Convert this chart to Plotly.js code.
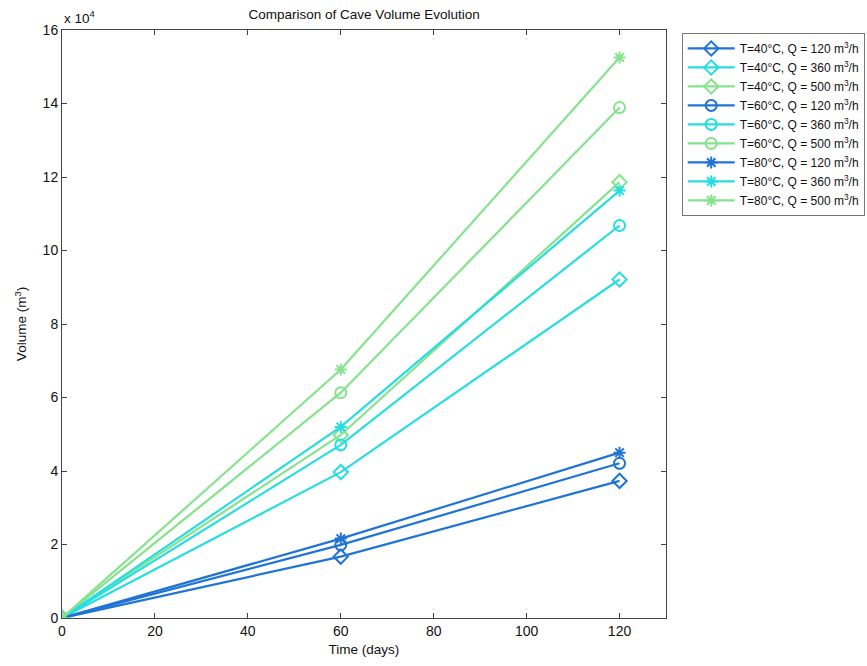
<!DOCTYPE html>
<html>
<head>
<meta charset="utf-8">
<script src="https://cdn.plot.ly/plotly-3.0.1.min.js"></script>
<style>html,body{margin:0;padding:0;background:#fff;}#chart{width:867px;height:666px;}</style>
</head>
<body>
<div id="chart"></div>
<script>
// Data (time in days, volume in m^3)
const days = [0, 60, 120];
const v40_120 = [0, 16700, 37300];
const v40_360 = [0, 39700, 92100];
const v40_500 = [0, 49800, 118600];
const v60_120 = [0, 19900, 42100];
const v60_360 = [0, 47100, 106800];
const v60_500 = [0, 61300, 138900];
const v80_120 = [0, 21600, 45000];
const v80_360 = [0, 52000, 116300];
const v80_500 = [0, 67600, 152500];
const seriesNames = [
  'T=40°C, Q = 120 m<sup>3</sup>/h', 'T=40°C, Q = 360 m<sup>3</sup>/h', 'T=40°C, Q = 500 m<sup>3</sup>/h',
  'T=60°C, Q = 120 m<sup>3</sup>/h', 'T=60°C, Q = 360 m<sup>3</sup>/h', 'T=60°C, Q = 500 m<sup>3</sup>/h',
  'T=80°C, Q = 120 m<sup>3</sup>/h', 'T=80°C, Q = 360 m<sup>3</sup>/h', 'T=80°C, Q = 500 m<sup>3</sup>/h'
];
const yTickVals = [0, 20000, 40000, 60000, 80000, 100000, 120000, 140000, 160000];
const yTickText = ['0', '2', '4', '6', '8', '10', '12', '14', '16'];
const xTickVals = [0, 20, 40, 60, 80, 100, 120];

const seriesValues = [v40_120, v40_360, v40_500, v60_120, v60_360, v60_500, v80_120, v80_360, v80_500];
const colors = ['#1f74d4', '#26dde2', '#86e38d'];
const symbols = ['diamond-open', 'circle-open', 'asterisk-open'];

const traces = seriesValues.map((vals, i) => {
  const c = colors[i % 3];
  const s = symbols[Math.floor(i / 3)];
  return {
    x: days, y: vals, name: seriesNames[i], type: 'scatter', mode: 'lines+markers',
    line: {color: c, width: 2.2},
    marker: {symbol: s, size: s === 'asterisk-open' ? 10 : 11, color: c, line: {color: c, width: 2}}
  };
});

const axisCommon = {
  showline: true, linecolor: '#444', linewidth: 1, mirror: 'ticks',
  ticks: 'inside', ticklen: 5, tickcolor: '#444', showgrid: false, zeroline: false,
  tickfont: {family: 'Liberation Sans, Arial, sans-serif', size: 14, color: '#111'}
};

const layout = {
  width: 867, height: 666,
  margin: {l: 62, r: 201, t: 30, b: 48, autoexpand: false},
  paper_bgcolor: '#fff', plot_bgcolor: '#fff',
  font: {family: 'Liberation Sans, Arial, sans-serif', color: '#111'},
  title: {text: 'Comparison of Cave Volume Evolution', x: 0.42, xanchor: 'center', y: 0.985, yanchor: 'top',
          font: {size: 13.5, color: '#111'}},
  xaxis: Object.assign({}, axisCommon, {
    range: [0, 130], tickvals: xTickVals,
    title: {text: 'Time (days)', font: {size: 13.5}, standoff: 6}
  }),
  yaxis: Object.assign({}, axisCommon, {
    range: [0, 160000], tickvals: yTickVals, ticktext: yTickText,
    title: {text: 'Volume (m<sup>3</sup>)', font: {size: 13.5}, standoff: 12}
  }),
  legend: {
    x: 1.026, y: 0.995, xanchor: 'left', yanchor: 'top',
    bordercolor: '#777', borderwidth: 1, bgcolor: '#fff',
    font: {size: 12, color: '#111'}, itemwidth: 47, tracegroupgap: 0
  },
  annotations: [{
    text: 'x 10<sup>4</sup>', xref: 'paper', yref: 'paper', x: 0, y: 1, xanchor: 'left', yanchor: 'bottom',
    showarrow: false, font: {size: 13.5, color: '#111'}, yshift: 2
  }],
  showlegend: true
};

Plotly.newPlot('chart', traces, layout, {displayModeBar: false, staticPlot: true});
</script>
</body>
</html>
